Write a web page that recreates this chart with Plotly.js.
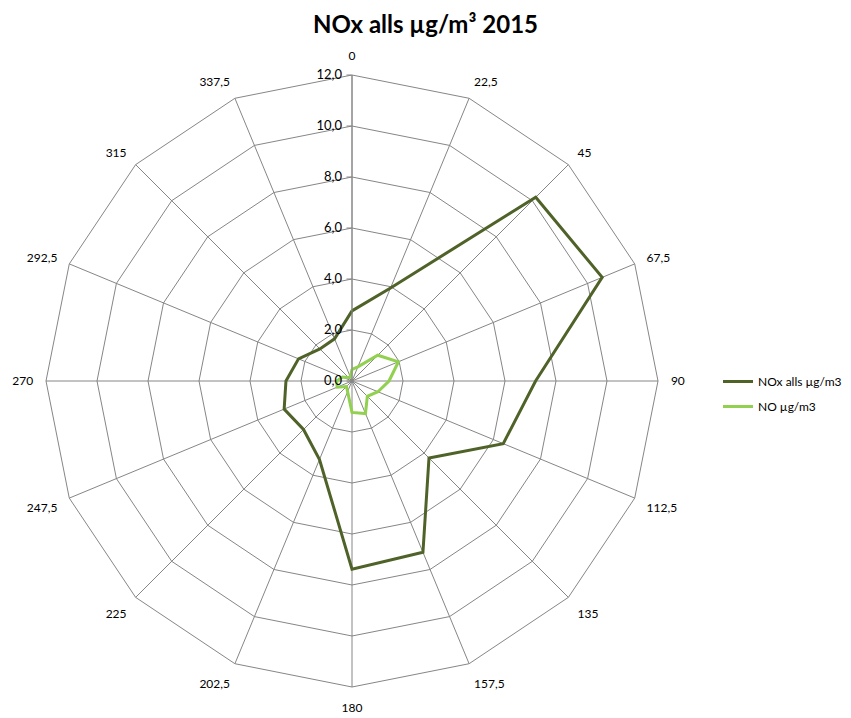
<!DOCTYPE html>
<html>
<head>
<meta charset="utf-8">
<script src="https://cdn.plot.ly/plotly-3.0.1.min.js"></script>
<style>html,body{margin:0;padding:0;background:#fff;}#chart{width:851px;height:718px;}</style>
</head>
<body>
<div id="chart"></div>
<script>
const directions = ['0','22,5','45','67,5','90','112,5','135','157,5','180','202,5','225','247,5','270','292,5','315','337,5'];
const noxValues = [2.75, 3.95, 10.19, 10.62, 7.2, 6.42, 4.27, 7.27, 7.38, 3.33, 2.69, 2.88, 2.59, 2.27, 1.78, 1.79];
const noValues  = [0.46, 0.6, 1.43, 1.97, 1.45, 1.1, 0.85, 1.38, 1.23, 0.45, 0.31, 0.63, 0.6, 0.4, 0.2, 0.17];
const seriesNames = ['NOx alls µg/m3', 'NO µg/m3'];
const radialTicks = [0, 2, 4, 6, 8, 10, 12];

const close = a => a.concat([a[0]]);

const traces = [
  {type:'scatterpolar', mode:'lines', name:seriesNames[0], legendgroup:'a',
   theta:close(directions), r:close(noxValues),
   line:{color:'#4F6228', width:3}, hoverinfo:'skip'},
  {type:'scatterpolar', mode:'lines', name:seriesNames[1], legendgroup:'b',
   theta:close(directions), r:close(noValues),
   line:{color:'#92D050', width:3}, hoverinfo:'skip'}
];

const W = 851, H = 718;
const cx = 352, cy = 381, R = 306;

const layout = {
  width: W, height: H, autosize: false,
  margin: {l:0, r:0, t:0, b:0},
  paper_bgcolor: '#fff',
  separators: ',.',
  font: {family: 'Lato, "Open Sans", sans-serif', color: '#000', size: 12},
  title: {text: '<b>NOx alls µg/m³ 2015</b>', x: 0.5, xanchor: 'center', y: 1 - 25/H, yanchor: 'middle',
          font: {family: 'Lato, "Open Sans", sans-serif', size: 24, color: '#000'}},
  showlegend: true,
  legend: {x: 718/W, xanchor: 'left', y: 1 - 394/H, yanchor: 'middle',
           traceorder: 'grouped', tracegroupgap: 6, itemwidth: 30,
           font: {family: 'Lato, "Open Sans", sans-serif', size: 12, color: '#000'},
           bgcolor: 'rgba(0,0,0,0)'},
  polar: {
    domain: {x: [(cx - R)/W, (cx + R)/W], y: [1 - (cy + R)/H, 1 - (cy - R)/H]},
    bgcolor: '#fff',
    gridshape: 'linear',
    angularaxis: {
      type: 'category', direction: 'clockwise', rotation: 90,
      categoryarray: directions, categoryorder: 'array',
      showline: true, linecolor: '#868686', linewidth: 1,
      showgrid: true, gridcolor: '#868686', gridwidth: 1,
      ticks: 'outside', ticklen: 10, tickcolor: 'rgba(0,0,0,0)',
      tickfont: {size: 12, color: '#000'}
    },
    radialaxis: {
      range: [0, 12], tickvals: radialTicks, tickformat: '.1f',
      angle: 90, side: 'counterclockwise', tickangle: 90,
      showline: true, linecolor: '#868686', linewidth: 1,
      showgrid: true, gridcolor: '#868686', gridwidth: 1,
      ticks: 'outside', ticklen: 5, tickcolor: '#868686',
      tickfont: {size: 13, color: '#000'}
    }
  }
};

Plotly.newPlot('chart', traces, layout, {staticPlot: true, displayModeBar: false});
</script>
</body>
</html>
